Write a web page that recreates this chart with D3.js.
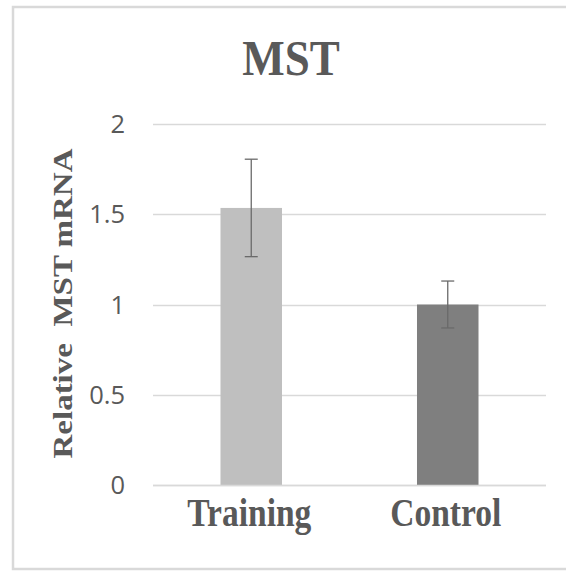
<!DOCTYPE html>
<html><head><meta charset="utf-8">
<script src="https://cdn.jsdelivr.net/npm/d3@7"></script>
<style>body{margin:0;background:#fff}</style>
</head><body>
<script>
const categories = ["Training", "Control"];
const values = [1.535, 1.0];
const errors = [0.27, 0.13];
const yTicks = [0, 0.5, 1, 1.5, 2];
const barColors = ["#bfbfbf", "#7f7f7f"];
const title = "MST";
const yLabel = "Relative\u00a0 MST mRNA";

const W = 566, H = 572;
const svg = d3.select("body").append("svg").attr("width", W).attr("height", H);

// outer chart border (left, top, bottom visible)
svg.append("path").attr("d", `M${W},7 H13 V569 H${W}`)
  .attr("fill", "none").attr("stroke", "#d9d9d9").attr("stroke-width", 2.5);

const x = d3.scaleBand().domain(categories).range([153, 546])
  .paddingInner(0.687).paddingOuter(0.3435);
const y = d3.scaleLinear().domain([0, 2]).range([485, 124]);

// gridlines
svg.append("g").selectAll("line").data(yTicks).join("line")
  .attr("x1", 153).attr("x2", 546)
  .attr("y1", d => Math.round(y(d)) + 0.5).attr("y2", d => Math.round(y(d)) + 0.5)
  .attr("stroke", "#d9d9d9").attr("stroke-width", 1.5);

// y tick labels
svg.append("g").selectAll("text").data(yTicks).join("text")
  .attr("x", 125).attr("y", d => y(d))
  .attr("dy", "0.36em").attr("text-anchor", "end")
  .attr("font-family", "'Open Sans', sans-serif").attr("font-size", 25.5)
  .attr("fill", "#595959").text(d => d);

// bars
svg.append("g").selectAll("rect").data(categories).join("rect")
  .attr("x", d => x(d)).attr("width", x.bandwidth())
  .attr("y", (d, i) => y(values[i])).attr("height", (d, i) => y(0) - y(values[i]))
  .attr("fill", (d, i) => barColors[i]);

// error bars
const eb = svg.append("g").attr("stroke", "#6a6a6a").attr("stroke-width", 1.3);
categories.forEach((c, i) => {
  const cx = x(c) + x.bandwidth() / 2;
  const top = y(values[i] + errors[i]), bot = y(values[i] - errors[i]);
  eb.append("line").attr("x1", cx).attr("x2", cx).attr("y1", top).attr("y2", bot);
  eb.append("line").attr("x1", cx - 6.5).attr("x2", cx + 6.5).attr("y1", top).attr("y2", top);
  eb.append("line").attr("x1", cx - 6.5).attr("x2", cx + 6.5).attr("y1", bot).attr("y2", bot);
});

// x axis line
svg.append("line").attr("x1", 153).attr("x2", 546)
  .attr("y1", Math.round(y(0)) + 0.5).attr("y2", Math.round(y(0)) + 0.5)
  .attr("stroke", "#d9d9d9").attr("stroke-width", 1.5);

// x category labels
const sx = 0.86;
svg.append("g").selectAll("text").data(categories).join("text")
  .attr("transform", d => `translate(${x(d) + x.bandwidth() / 2 - 2},526) scale(${sx},1)`)
  .attr("text-anchor", "middle")
  .attr("font-family", "'Liberation Serif', 'Times New Roman', serif")
  .attr("font-weight", "bold").attr("font-size", 39)
  .attr("fill", "#595959").text(d => d);

// title
svg.append("text")
  .attr("transform", `translate(291,75) scale(0.9,1)`)
  .attr("text-anchor", "middle")
  .attr("font-family", "'Liberation Serif', 'Times New Roman', serif")
  .attr("font-weight", "bold").attr("font-size", 50)
  .attr("fill", "#595959").text(title);

// y axis label
svg.append("text")
  .attr("transform", `translate(72,303.5) rotate(-90) scale(1,${sx})`)
  .attr("text-anchor", "middle")
  .attr("font-family", "'Liberation Serif', 'Times New Roman', serif")
  .attr("font-weight", "bold").attr("font-size", 33)
  .attr("fill", "#595959").text(yLabel);
</script>
</body></html>
